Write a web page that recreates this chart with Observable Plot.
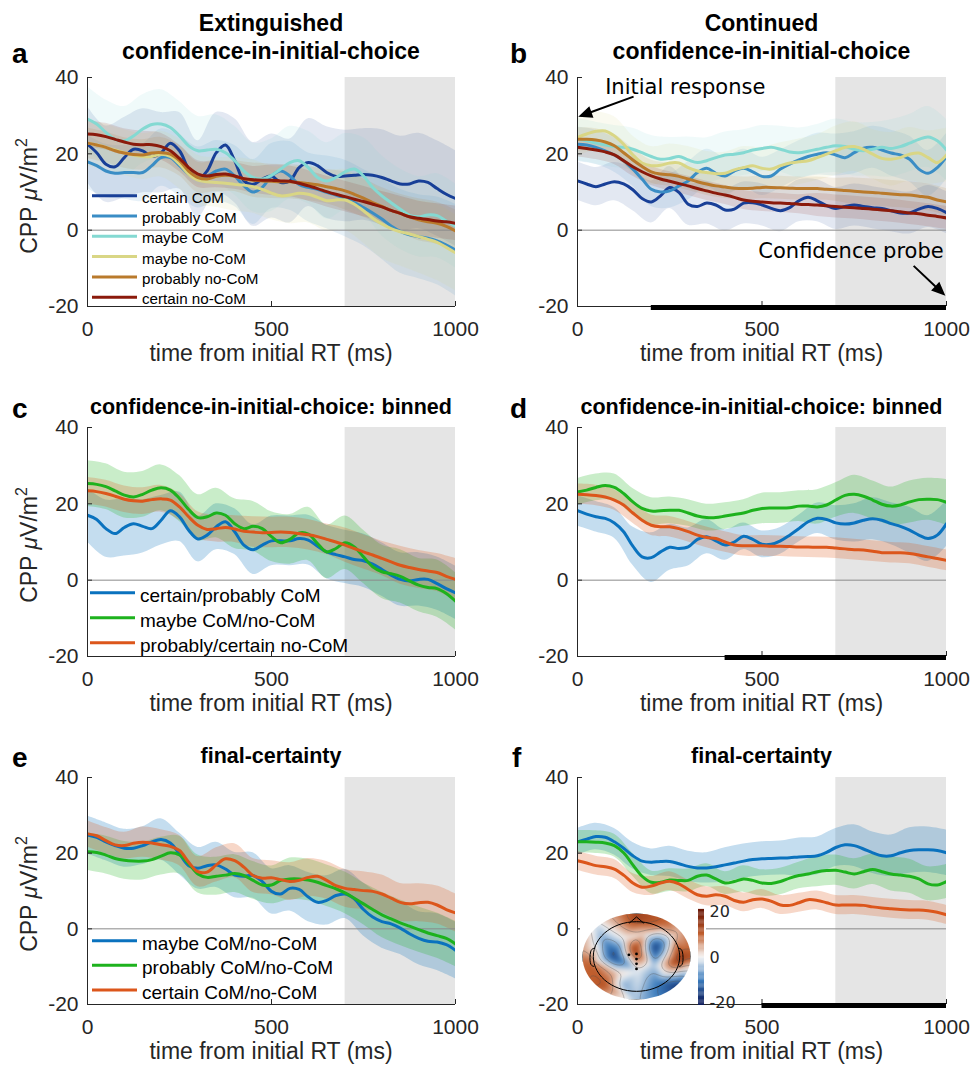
<!DOCTYPE html>
<html>
<head>
<meta charset="utf-8">
<script src="https://cdn.jsdelivr.net/npm/d3@7"></script>
<script src="https://cdn.jsdelivr.net/npm/@observablehq/plot@0.6"></script>
<style>
html,body{margin:0;padding:0;background:#fff;}
#fig{position:relative;width:971px;height:1067px;overflow:hidden;background:#fff;}
#fig > div{position:absolute;}
#fig svg{display:block;}
</style>
</head>
<body>
<div id="fig"></div>
<script>
// ---------------- shared axes data ----------------
const times = [0,25,50,75,100,125,150,175,200,225,250,275,300,325,350,375,400,425,450,475,500,525,550,575,600,625,650,675,700,725,750,775,800,825,850,875,900,925,950,975,1000];
const bandTimes = [0,50,100,150,200,250,300,350,400,450,500,550,600,650,700,750,800,850,900,950,1000];
const xTicks = [0, 500, 1000];
const yTicks = [-20, 0, 20, 40];
const xDomain = [0, 1000];
const yDomain = [-20, 40];
const shadeWindow = [700, 1000];
const xLabel = "time from initial RT (ms)";

// ---------------- panel a ----------------
const aNames = ["certain CoM","probably CoM","maybe CoM","maybe no-CoM","probably no-CoM","certain no-CoM"];
const aColors = ["#183f97","#3a8dc5","#84d9d2","#d9d685","#b97a2c","#8b1a0b"];
const aCertainCoM = [22.5,20.3,17.3,16.6,19,21.2,20.8,19.3,20.3,22.8,20.8,16,13.4,15.5,20.3,22.3,18.2,12.9,12,13.4,14.2,12.5,12.9,16.4,17.7,16.9,15.1,14.1,14.2,14.4,14.6,14.4,13.8,12.9,12.1,12.1,12.9,12.5,10.9,9.4,8.3];
const aProbablyCoM = [17.9,16.9,15.5,14.9,15.1,15.1,15.1,16.9,19,19,16.9,14.7,13.8,14.2,15.5,16,14.2,11.6,10,11.2,14.2,15.5,14.2,12,11.2,10.7,9.9,9.2,8.3,7.2,5.9,4.5,2.9,1.1,-0.3,-1.2,-1.7,-2.1,-2.8,-3.9,-5.2];
const aMaybeCoM = [29.1,27.8,25.6,23.8,23.4,24.7,26.5,27.7,27.8,26.9,24.7,22.1,20.8,21,21.2,20.3,18.2,15.5,13.8,13.4,14.4,16,17.7,18.2,16.4,13.8,12.9,13.8,15.3,16,14.2,11.2,9,7.2,5.5,3.9,3.5,4,3.8,2.4,1.1];
const aMaybeNoCoM = [22.8,22.3,21.7,21,20.3,19.7,19.3,19.3,19.9,19.3,17.3,14.7,13.1,12.7,12.5,12.3,12,11.8,11.4,10.7,9.7,9,9.2,9.7,9.4,8.6,7.7,7.9,7.9,6.8,5.1,3.1,1.6,0.4,-0.4,-1,-1.7,-2.4,-3.2,-4.5,-5.9];
const aProbablyNoCoM = [22.8,22.3,21.7,20.8,20.2,19.8,19.7,20.2,20.3,19.9,18.2,15.5,13.8,13.4,14.1,14.4,14.1,13.4,13.1,12.9,12.8,12.7,12.7,12.5,12.2,11.9,11.4,10.9,10.3,9.4,8.4,7.2,6.2,5.2,4.4,3.5,2.7,2.2,1.8,1.0,-0.2];
const aCertainNoCoM = [25.2,25,24.5,23.8,23.1,22.5,22.4,22.4,21.9,20.8,18.8,16.4,14.7,14.2,14.6,14.7,14.2,13.5,13.2,13.1,13.1,12.9,12.8,12.3,11.6,10.9,10.1,9.4,8.8,8.1,7.5,6.8,6.1,5.2,4.4,3.5,3.1,2.8,2.4,2.2,1.8];
const aCertainCoM_se = [10,10,10.5,11,10.5,10,10,10.5,11,11,11,11,11.5,12,12,12,12.5,12.5,12.5,12.5,12.5];
const aProbablyCoM_se = [7,7,7,7.5,7.5,8,8,8,8,8.5,8.5,9,9,9.5,10,10,10.5,11,11,11.5,12];
const aMaybeCoM_se = [8.5,8.5,9,9,9,9,9,9,9,9,9.5,9.5,9.5,10,10,10,10.5,10.5,10.5,11,11];
const aMaybeNoCoM_se = [6,6,6,6,6,6.5,6.5,6.5,7,7,7,7.5,7.5,8,8,8.5,9,9,9.5,10,10];
const aProbablyNoCoM_se = [4,4,4,4,4,4,4,4,4,4.5,4.5,4.5,4.5,4.5,5,5,5,5,5.5,5.5,5.5];
const aCertainNoCoM_se = [3.5,3.5,3.5,3.5,3.5,3.5,3.5,3.5,3.5,3.5,4,4,4,4,4,4,4,4.5,4.5,4.5,4.5];

// ---------------- panel b ----------------
const bCertainCoM = [12.9,12.1,11.4,12.1,12.7,12.1,10.6,8.3,7.4,9,11.2,9.9,6.8,6.2,7.1,6.6,5.3,5.5,7.1,7.2,6.6,5.7,5.1,5.9,7.7,8.6,7.7,6.4,5.7,6.2,6.6,6.2,5.9,5.7,5.1,4.5,4.5,5.5,6.2,5.7,4.6];
const bProbablyCoM = [22.5,22.3,21.7,20.8,19.7,18.2,16,13.4,10.7,10,10.3,11.6,12.9,15.1,16.2,14.9,14.2,15.5,16.2,15.3,14.1,14.2,16,17.3,18.4,19.3,19.9,20.3,19.7,19,20.3,21.5,21.7,21,20.2,19.7,18.6,16,14.9,16.4,19.3];
const bMaybeCoM = [23.8,23.4,22.8,22.3,21.9,21.7,21.2,20.3,19.3,18.6,18.8,19.3,18.4,17.7,18.2,19,19.7,19.9,20.3,21,21.4,21.7,21.2,20.5,20.3,20.7,21.2,21.7,22.1,21.9,21.2,20.8,21.2,21.7,21.4,21.9,22.8,23.8,24.4,23.4,21];
const bMaybeNoCoM = [24.3,25.2,25.9,26,24.7,22.5,19.7,17.6,16.9,17,17.6,17.6,16.4,15.5,15.1,14.8,14.9,15.8,16.4,16.9,16.2,16,16.9,17.6,17.9,18.2,19,19.9,20.8,21.7,21.9,21.2,19.9,18.8,18.6,19,19.9,20.2,19,17.7,19.7];
const bProbablyNoCoM = [23.8,23.8,23.6,23.1,22.1,20.3,18.4,16.7,15.3,14.7,14.5,14.1,13.4,12.7,12.1,11.6,11.3,11,10.9,11,11.2,11.2,11.1,11,10.9,10.9,10.9,10.7,10.6,10.4,10.2,10,9.9,9.7,9.5,9.3,9.2,8.9,8.6,7.9,7.4];
const bCertainNoCoM = [21.7,21.4,21,20.5,19.7,18.2,16.6,15.3,14.2,13.4,12.8,12.2,11.6,10.9,10.3,9.7,9.2,8.6,7.9,7.6,7.4,7.2,7.1,7,6.8,6.7,6.6,6.4,6.2,6,5.9,5.7,5.5,5.3,5.1,4.8,4.5,4.3,3.9,3.6,3.2];
const bCertainCoM_se = [5,5,5,5.5,5.5,5.5,5.5,5.5,5.5,5.5,5.5,5.5,5.5,5.5,5.5,5.5,5.5,5.5,5.5,5.5,5.5];
const bProbablyCoM_se = [4.5,4.5,4.5,4.5,4.5,4.5,5,5,5,5,5,5,5,5.5,5.5,5.5,5.5,6,6,6,6];
const bMaybeCoM_se = [5.5,5.5,5.5,5.5,5.5,5.5,6,6,6,6,6,6,6.5,6.5,7,7,7,7.5,7.5,8,8];
const bMaybeNoCoM_se = [5,5,5,5,5,5,5.5,5.5,5.5,5.5,5.5,6,6,6,6.5,6.5,6.5,7,7,7,7];
const bProbablyNoCoM_se = [3,3,3,3,3,3,3,3,3,3,3,3,3,3,3,3.5,3.5,3.5,3.5,3.5,3.5];
const bCertainNoCoM_se = [2.5,2.5,2.5,2.5,2.5,2.5,2.5,2.5,2.5,2.5,2.5,2.5,2.5,3,3,3,3,3,3,3,3];
const bSig = [200, 1000];
const bAnnotText = [{label:"Initial response", t:75, v:35.6}, {label:"Confidence probe", t:490, v:-7.3}];
const bAnnotArrows = [{t1:152, v1:35.0, t2:2, v2:29.7}, {t1:911, v1:-9.35, t2:997, v2:-17.2}];

// ---------------- panel c / d (binned) ----------------
const binNames = ["certain/probably CoM","maybe CoM/no-CoM","probably/certain no-CoM"];
const binColors = ["#0a72be","#1db21d","#dc561b"];
const cCertProb = [17,15.9,13.5,12.2,13.8,14.8,14.1,13.5,15.7,18.2,16.6,13.1,10.8,11.8,14,15.3,12.7,9.2,8,9.2,10.3,10.3,10.3,10.9,10.5,8.9,7.4,6.7,6.1,5.4,5.1,4.2,2.8,1.3,0.2,-0.2,0.2,0.2,-0.9,-2.2,-3.3];
const cMaybe = [25.3,25.1,24.5,23.4,22.3,21.8,22.5,23.6,24.2,23.6,21.4,18.5,16.4,16.6,17.6,17,14.8,13.5,14.1,13.5,11.4,9.8,10.7,12.4,12.1,9.6,7.4,8.3,9.8,8.7,6.1,3.5,2.2,1.7,1,-0.2,-1.3,-1.9,-2.2,-3.5,-5.5];
const cProbCert = [23.4,23.2,22.7,22,21.2,20.8,20.7,21.1,21.3,21,19.2,16.6,14.4,13.3,13.5,13.8,13.4,12.8,12.6,12.4,12.5,12.6,12.5,12.2,11.9,11.4,10.7,10,9.2,8.3,7.4,6.6,5.7,4.8,3.9,3.3,2.8,2.4,2,1.0,0.2];
const cCertProb_se = [7,7.5,7.5,7,6.5,6.5,6,6,6,6.5,6.5,6.5,6.5,7,7,7,7,7,7,7,7];
const cMaybe_se = [6,6,6,6,6,6,6,6.5,6.5,6.5,6.5,6.5,7,7,7,7,7,7,7,7.5,7.5];
const cProbCert_se = [3.5,3.5,3.5,3.5,3.5,3.5,3.5,3.5,3.5,4,4,4,4,4,4.5,4.5,4.5,5,5,5,5.5];
const dCertProb = [18.2,17.3,16.6,16.2,15,12.7,8.9,6.1,5.9,7.4,8.6,8.3,8.7,10.7,11.4,10.3,9.2,10,11.5,10.7,9.4,9.4,10.3,11.8,13.5,15.3,16.2,15.9,15,14.7,15,15.7,16.1,15.7,14.8,14.1,13.1,11.8,10.9,11.8,14.8];
const dMaybe = [23.1,23.6,24.3,24.8,24.3,22.7,20.5,18.8,18.1,18.2,18.3,18.3,17.6,16.8,16.4,16.4,16.8,17.2,17.6,18.3,18.8,18.9,18.9,19,19.4,19.4,19.2,19.7,21,22.2,22.5,22,21,19.9,19.4,19.7,20.5,21.1,21.2,21.1,20.4];
const dProbCert = [22.5,22.4,22.2,21.8,21,19.7,17.6,15.7,14.4,14,14,13.5,12.7,11.8,11.2,10.9,10,9.2,9,9,9,8.9,8.9,8.8,8.7,8.7,8.6,8.6,8.4,8.2,8,7.9,7.6,7.2,7.2,7.2,7,6.6,6.1,5.7,5.2];
const dCertProb_se = [4,4,4,5,6.5,6,5,4.5,4,3.5,3.5,3.5,3.5,4,4.5,5,5.5,5.5,6,6,6];
const dMaybe_se = [3.5,3.5,3.5,3.5,3.5,3.5,3.5,3.5,3.5,3.5,4,4,4,4.5,4.5,5,5,5,5.5,5.5,6];
const dProbCert_se = [2.7,2.7,2.7,2.7,2.7,2.7,2.7,2.7,2.7,2.7,2.7,2.7,2.7,2.7,2.7,2.7,2.7,2.7,2.7,2.7,2.7];
const dSig = [400, 1000];

// ---------------- panel e / f (final certainty) ----------------
const finNames = ["maybe CoM/no-CoM","probably CoM/no-CoM","certain CoM/no-CoM"];
const finColors = ["#0a72be","#1db21d","#dc561b"];
const eMaybe = [24.8,24.2,23,22,21.3,21.3,22,23,23.6,22.7,19.8,16.7,16,16.7,16.9,15.8,14.2,13.9,14.1,12.5,9.9,9.2,10.7,10.4,8.4,7,7.5,8.8,9.2,7.9,5.1,3.1,1.9,1.3,0.2,-1.3,-2.5,-3.3,-3.5,-4.2,-5.7];
const eProbably = [20.4,20.2,19.5,18.6,18.1,17.9,17.9,18.3,19.2,20.1,19.5,17.2,14.5,13.6,13.9,14.2,14.6,14.1,12.8,11.6,11.6,12.8,13.2,13.2,12.9,12.3,11.4,10.6,9.5,8.1,6.6,5.1,3.7,2.6,1.6,0.7,-0.2,-1.1,-1.8,-2.5,-4];
const eCertain = [25.1,24.6,23.3,22.2,22,22.6,22.9,22.7,22.2,21.8,20.7,17.6,15.1,15,16.9,18.5,18,16.3,14.1,13.4,13.5,13,12.5,12.8,13.6,13.9,12.8,11.4,10.7,10.4,10.1,9.9,9.2,8.1,7,6.6,6.9,7,6.3,5.1,4.2];
const eMaybe_se = [5,5,5,5,5.5,5.5,5.5,6,6,6,6,6,6.5,6.5,6.5,7,7,7,7,7.5,7.5];
const eProbably_se = [5,5,5,5,5,5,5,5,5,5,5,5.5,5.5,5.5,5.5,5.5,6,6,6,6,6];
const eCertain_se = [3.5,3.5,3.5,4,4,4,4,4.5,4.5,4.5,4.5,5,5,5,5,5,5,5,5,5,5];
const fMaybe = [23,23.7,24.4,24.2,23,21.3,19.3,17.9,17.6,17.8,17.8,17.2,16.5,16.1,16.1,16.4,16.9,17.4,17.9,18.3,18.5,18.6,18.7,18.8,19,19.1,19.3,20.2,21.5,22.2,22,21.1,20.1,19.3,19.3,20.1,20.7,20.9,20.9,20.7,20.1];
const fProbably = [23,23,22.9,22.7,22,20.1,16.9,13.9,12.3,12.3,12.9,12.8,12.8,13.9,14.2,13.2,12.1,12.5,13.2,12.8,12.1,12,12.5,13.4,14.1,14.5,15.1,15.4,15.5,15,14.5,15.1,15.7,15.1,14.5,14.2,13.9,13.2,11.9,11.6,12.5];
const fCertain = [18,17.4,16.7,16.4,15.8,14.2,12.1,11,11.3,12.1,12.6,11.9,10.4,9,8.6,9,8.6,7.5,7,7.7,7.9,7.3,6.3,6.2,6.9,7.7,7.5,6.9,6.3,6.3,6.3,6.2,5.8,5.5,5.3,5.1,5,5,4.8,4.4,3.7];
const fMaybe_se = [3.5,3.5,3.5,3.5,3.5,4,4,4,4.5,4.5,4.5,4.5,5,5,5,5.5,5.5,5.5,6,6,6];
const fProbably_se = [3,3,3,3,3,3,3,3,3,3.5,3.5,3.5,3.5,4,4,4,4,4.5,4.5,4.5,4.5];
const fCertain_se = [2.5,2.5,2.5,2.5,2.5,2.5,2.5,2.5,2.5,2.5,2.5,2.5,2.5,2.5,2.5,2.5,2.5,2.5,2.5,2.5,2.5];
const fSig = [500, 1000];

// ---------------- topographic inset (panel f) ----------------
const topoX = [-0.64,-0.88,-0.41,-0.02,0.35,0.78,0,-0.42,0.5,0.72,-0.6,-0.23,0.75,0.38,0.04,-0.36,0.32,-0.23,0.17, 0,0.74,1.05,0.74,0,-0.74,-1.05,-0.74, 1,-1,1,-1];
const topoY = [0.45,-0.15,0,0.14,0.21,-0.08,0.87,0.76,0.76,0.49,-0.68,-0.68,-0.72,-0.6,-0.34,-0.38,-0.23,0.42,0.53, 1.05,0.74,0,-0.74,-1.05,-0.74,0,0.74, 1,1,-1,-1];
const topoV = [-6,10,-16,15,-17,16,14,4,10,4,12,-6,-19,-10,-1,3,-4,0,2, 14,6,12,-16,-4,10,8,-2, 6,-2,-15,10];
const headNose = [{x:-0.13,y:0.78},{x:0,y:0.92},{x:0.13,y:0.78}];
const headEarL = [{x:-0.79,y:0.19},{x:-0.86,y:0.16},{x:-0.87,y:-0.2},{x:-0.79,y:-0.23}];
const headEarR = [{x:0.79,y:0.19},{x:0.86,y:0.16},{x:0.87,y:-0.2},{x:0.79,y:-0.23}];
const electrodes = [{x:-0.14,y:0.04},{x:0,y:0.06},{x:0,y:-0.06},{x:0,y:-0.17},{x:0,y:-0.29}];
const cmapDomain = [-20,-10,0,10,20];
const cmapRange = ["#0b1a5a","#3b7cbd","#f4f4f4","#c15f2e","#6a1605"];
const cbTicks = [-20, 0, 20];

// ---------------- text ----------------
const titles = [
  {lines:["Extinguished","confidence-in-initial-choice"], x:271, ys:[31,59], size:23},
  {lines:["Continued","confidence-in-initial-choice"], x:761.5, ys:[31,59], size:23},
  {lines:["confidence-in-initial-choice: binned"], x:271, ys:[414], size:21.5},
  {lines:["confidence-in-initial-choice: binned"], x:761.5, ys:[414], size:21.5},
  {lines:["final-certainty"], x:271, ys:[763], size:21.5},
  {lines:["final-certainty"], x:761.5, ys:[763], size:21.5}
];
const letters = [{t:"a",x:12,y:63},{t:"b",x:510,y:63},{t:"c",x:12,y:418},{t:"d",x:510,y:418},{t:"e",x:12,y:767},{t:"f",x:512,y:767}];

// ---------------- helpers ----------------
const axisColor = "#262626";
const fontMain = "'Liberation Sans', Arial, Helvetica, sans-serif";
function seriesList(names, colors, vals, ses) {
  return names.map((name, i) => ({name, color: colors[i], values: vals[i], se: ses[i]}));
}
function lineRows(values) { return times.map((t, i) => ({t, v: values[i]})); }
function bandRows(values, se) {
  return bandTimes.map((t, j) => { const i = times.indexOf(t); return {t, lo: values[i] - se[j], hi: values[i] + se[j]}; });
}
// filled arrow shape for vector marks (shaft + solid head)
const filledArrow = {draw(context, l) {
  const h = 14, w = 6, s = 1;
  context.moveTo(-s, 0); context.lineTo(s, 0); context.lineTo(s, -l + h); context.lineTo(w, -l + h);
  context.lineTo(0, -l); context.lineTo(-w, -l + h); context.lineTo(-s, -l + h); context.closePath();
}};

const panels = [
  {left:0, top:62, h:283, pH:229, mR:15, op:0.12, series: seriesList(aNames, aColors,
    [aCertainCoM,aProbablyCoM,aMaybeCoM,aMaybeNoCoM,aProbablyNoCoM,aCertainNoCoM],
    [aCertainCoM_se,aProbablyCoM_se,aMaybeCoM_se,aMaybeNoCoM_se,aProbablyNoCoM_se,aCertainNoCoM_se])},
  {left:490, top:62, h:283, pH:229, mR:14, op:0.12, sig:bSig, annot:true, series: seriesList(aNames, aColors,
    [bCertainCoM,bProbablyCoM,bMaybeCoM,bMaybeNoCoM,bProbablyNoCoM,bCertainNoCoM],
    [bCertainCoM_se,bProbablyCoM_se,bMaybeCoM_se,bMaybeNoCoM_se,bProbablyNoCoM_se,bCertainNoCoM_se])},
  {left:0, top:412, h:283, pH:229, mR:15, op:0.24, series: seriesList(binNames, binColors,
    [cCertProb,cMaybe,cProbCert],[cCertProb_se,cMaybe_se,cProbCert_se])},
  {left:490, top:412, h:283, pH:229, mR:14, op:0.24, sig:dSig, series: seriesList(binNames, binColors,
    [dCertProb,dMaybe,dProbCert],[dCertProb_se,dMaybe_se,dProbCert_se])},
  {left:0, top:762, h:281, pH:227, mR:15, op:0.24, series: seriesList(finNames, finColors,
    [eMaybe,eProbably,eCertain],[eMaybe_se,eProbably_se,eCertain_se])},
  {left:490, top:762, h:281, pH:227, mR:14, op:0.24, sig:fSig, series: seriesList(finNames, finColors,
    [fMaybe,fProbably,fCertain],[fMaybe_se,fProbably_se,fCertain_se])}
];

const fig = document.getElementById("fig");
function place(node, left, top, w) {
  const d = document.createElement("div");
  d.style.left = left + "px"; d.style.top = top + "px"; d.style.width = w + "px";
  d.appendChild(node); fig.appendChild(d); return d;
}

function buildPanel(p, useVector) {
  const plotW = 470 - 87 - p.mR;
  const kx = plotW / (xDomain[1] - xDomain[0]);
  const ky = p.pH / (yDomain[1] - yDomain[0]);
  const yTickLen = 5 / ky;
  const xTickLen = 5 / kx;
  const marks = [
    Plot.rect([shadeWindow], {x1: d => d[0], x2: d => d[1], y1: yDomain[0], y2: yDomain[1], fill: "#e5e5e5"}),
    ...p.series.map(s => Plot.areaY(bandRows(s.values, s.se), {x: "t", y1: "lo", y2: "hi", fill: s.color, fillOpacity: p.op, curve: "catmull-rom", clip: true})),
    Plot.ruleY([0], {x1: xDomain[0], x2: xDomain[1], stroke: "#8a8a8a", strokeWidth: 1}),
    ...p.series.map(s => Plot.line(lineRows(s.values), {x: "t", y: "v", stroke: s.color, strokeWidth: 3, curve: "catmull-rom", clip: true})),
    Plot.ruleX([xDomain[0]], {y1: yDomain[0], y2: yDomain[1], stroke: axisColor}),
    Plot.ruleY([yDomain[0]], {x1: xDomain[0], x2: xDomain[1], stroke: axisColor}),
    Plot.ruleX(xTicks, {y1: yDomain[0], y2: yDomain[0] + yTickLen, stroke: axisColor}),
    Plot.ruleY(yTicks, {x1: xDomain[0], x2: xDomain[0] + xTickLen, stroke: axisColor}),
    Plot.axisX({ticks: xTicks, tickSize: 0, tickPadding: 15, tickFormat: d => String(d), label: null, fontSize: 21, color: axisColor}),
    Plot.axisY({ticks: yTicks, tickSize: 0, tickPadding: 9, tickFormat: d => String(d), label: null, fontSize: 21, color: axisColor})
  ];
  if (p.sig) marks.push(Plot.ruleY([yDomain[0]], {x1: p.sig[0], x2: p.sig[1], stroke: "black", strokeWidth: 5, dy: 1}));
  if (p.annot) {
    marks.push(Plot.text(bAnnotText, {x: "t", y: "v", text: "label", textAnchor: "start", lineAnchor: "bottom", fontSize: 21, fontFamily: "'DejaVu Sans', sans-serif", fill: "black"}));
    if (useVector) {
      const dxp = d => (d.t2 - d.t1) * kx, dyp = d => -(d.v2 - d.v1) * ky;
      marks.push(Plot.vector(bAnnotArrows, {
        x: "t1", y: "v1", anchor: "start", shape: filledArrow, fill: "black", stroke: "none",
        length: d => Math.hypot(dxp(d), dyp(d)),
        rotate: d => Math.atan2(dxp(d), -dyp(d)) * 180 / Math.PI
      }));
    } else {
      marks.push(Plot.arrow(bAnnotArrows, {x1: "t1", y1: "v1", x2: "t2", y2: "v2", stroke: "black", strokeWidth: 2, headLength: 13, headAngle: 50}));
    }
  }
  return Plot.plot({
    width: 470, height: p.h, marginLeft: 87, marginRight: p.mR, marginTop: 15, marginBottom: p.h - 15 - p.pH,
    x: {domain: xDomain}, y: {domain: yDomain}, length: {type: "identity"},
    style: {fontFamily: fontMain, background: "white", overflow: "visible"},
    marks
  });
}

panels.forEach(p => {
  let svg;
  try { svg = buildPanel(p, true); } catch (e) { svg = buildPanel(p, false); }
  place(svg, p.left, p.top, 470);
});

// ---------------- topomap inset ----------------
const topoPts = topoX.map((x, i) => ({x, y: topoY[i], v: topoV[i]}));
const headCircle = d3.range(0, 361, 6).map(a => ({x: 0.8 * Math.cos(a * Math.PI / 180), y: 0.81 * Math.sin(a * Math.PI / 180)}));
const colorOpts = {type: "linear", domain: cmapDomain, range: cmapRange, clamp: true};
const topo = Plot.plot({
  width: 126, height: 90, marginLeft: 2, marginRight: 16, marginTop: 2, marginBottom: 2,
  x: {domain: [-1, 1], axis: null}, y: {domain: [-1, 1], axis: null},
  color: colorOpts,
  style: {background: "white"},
  marks: [
    Plot.raster(topoPts, {x: "x", y: "y", fill: "v", interpolate: "barycentric", pixelSize: 1, blur: 2}),
    Plot.contour(topoPts, {x: "x", y: "y", value: "v", interpolate: "barycentric", blur: 2, thresholds: [-15,-10,-5,0,5,10,15], stroke: "#555", strokeOpacity: 0.6, strokeWidth: 0.6, fill: "none"}),
    Plot.line(headCircle, {x: "x", y: "y", stroke: "black", strokeWidth: 1}),
    Plot.line(headNose, {x: "x", y: "y", stroke: "black", strokeWidth: 1}),
    Plot.line(headEarL, {x: "x", y: "y", stroke: "black", strokeWidth: 1, curve: "basis"}),
    Plot.line(headEarR, {x: "x", y: "y", stroke: "black", strokeWidth: 1, curve: "basis"}),
    Plot.dot(electrodes, {x: "x", y: "y", r: 1.4, fill: "black"})
  ]
});
(function clipHead() {
  const sx = topo.scale("x"), sy = topo.scale("y");
  const cx = sx.apply(0), cy = sy.apply(0);
  const rx = Math.abs(sx.apply(1) - cx), ry = Math.abs(sy.apply(1) - cy);
  const s = d3.select(topo);
  s.insert("defs", ":first-child").append("clipPath").attr("id", "headclip")
    .append("ellipse").attr("cx", cx).attr("cy", cy).attr("rx", rx).attr("ry", ry);
  s.selectAll('g[aria-label="raster"], g[aria-label="contour"]').attr("clip-path", "url(#headclip)");
})();
place(topo, 580, 911, 126);

const cbLevels = d3.range(-21, 21, 0.5);
const cbar = Plot.plot({
  width: 70, height: 112, marginLeft: 8, marginRight: 56, marginTop: 9, marginBottom: 7,
  x: {domain: [0, 1], axis: null}, y: {domain: [-21, 21]},
  color: colorOpts,
  style: {background: "transparent", fontFamily: "'DejaVu Sans', sans-serif"},
  marks: [
    Plot.rect(cbLevels, {x1: 0, x2: 1, y1: d => d, y2: d => d + 0.55, fill: d => d + 0.25}),
    Plot.axisY({anchor: "right", ticks: cbTicks, tickSize: 0, tickPadding: 5, tickFormat: d => String(d), fontSize: 16, label: null, color: axisColor})
  ]
});
place(cbar, 690, 900, 70);

// ---------------- overlay text (titles, letters, labels, legends) ----------------
const ov = d3.select(fig).append("div").style("left", "0px").style("top", "0px")
  .append("svg").attr("width", 971).attr("height", 1067).style("pointer-events", "none")
  .attr("font-family", fontMain);
titles.forEach(t => t.lines.forEach((ln, i) => {
  ov.append("text").attr("x", t.x).attr("y", t.ys[i]).attr("text-anchor", "middle")
    .attr("font-weight", "bold").attr("font-size", t.size).text(ln);
}));
letters.forEach(l => ov.append("text").attr("x", l.x).attr("y", l.y).attr("font-weight", "bold").attr("font-size", 28).text(l.t));
[[271, 361], [761.5, 361], [271, 711], [761.5, 711], [271, 1059], [761.5, 1059]].forEach(([x, y]) =>
  ov.append("text").attr("x", x).attr("y", y).attr("text-anchor", "middle").attr("font-size", 23).attr("fill", axisColor).text(xLabel));
[196, 545, 894].forEach(cy => {
  const t = ov.append("text").attr("transform", `translate(37,${cy}) rotate(-90)`).attr("text-anchor", "middle")
    .attr("font-size", 23).attr("fill", axisColor);
  t.append("tspan").text("CPP ");
  t.append("tspan").attr("font-style", "italic").text("μ");
  t.append("tspan").text("V/m");
  t.append("tspan").attr("dy", -10).attr("font-size", 16).text("2");
});
function legend(names, colors, x1, x2, xt, y0, step, fs) {
  names.forEach((n, i) => {
    const y = y0 + i * step;
    ov.append("line").attr("x1", x1).attr("x2", x2).attr("y1", y).attr("y2", y).attr("stroke", colors[i]).attr("stroke-width", 3);
    ov.append("text").attr("x", xt).attr("y", y + 0.47 * fs).attr("font-size", fs).attr("fill", "#000").text(n);
  });
}
legend(aNames, aColors, 92, 137, 142, 195.7, 20.3, 15.2);
legend(binNames, binColors, 90, 135, 140, 592.7, 25, 19);
legend(finNames, finColors, 92, 137, 142, 940.7, 24.6, 19);
</script>
</body>
</html>
